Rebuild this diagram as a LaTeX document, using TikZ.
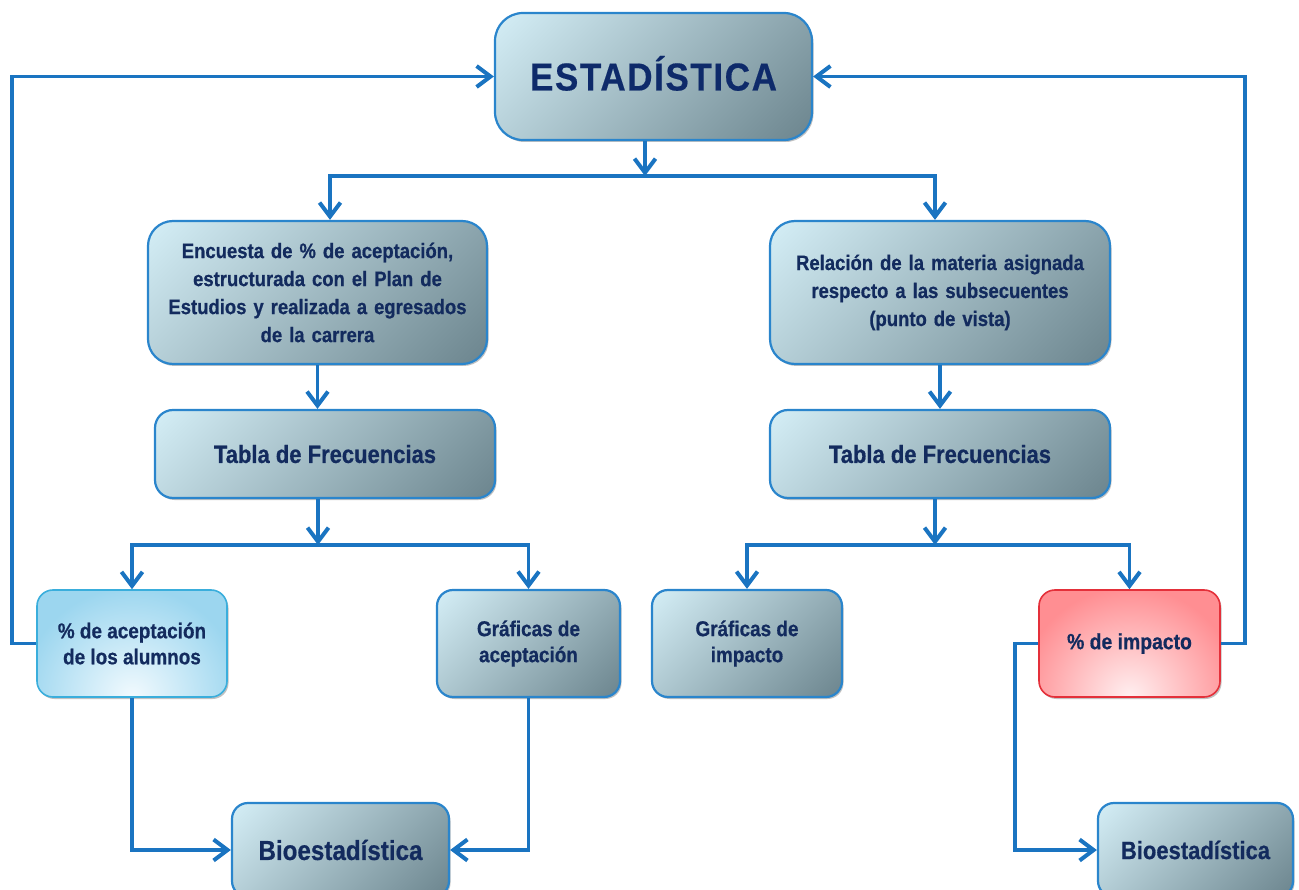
\documentclass[tikz,border=0pt]{standalone}
\usepackage{fontspec}
\setmainfont{Liberation Sans}[FakeStretch=0.88, FakeBold=0.6]
\newfontfamily\estfont{Liberation Sans}[FakeStretch=0.9, LetterSpace=4, FakeBold=0.4]
\usetikzlibrary{arrows.meta,shadows}
\definecolor{linec}{HTML}{1A74C1}
\definecolor{boxborder}{HTML}{2A85CC}
\definecolor{txtc}{HTML}{132B5E}
\definecolor{estc}{HTML}{0E2A6A}
\definecolor{gradA}{HTML}{D4EEF6}
\definecolor{gradB}{HTML}{6C858E}
\definecolor{lbOut}{HTML}{9CD6EF}
\definecolor{lbIn}{HTML}{F2FAFE}
\definecolor{lbBorder}{HTML}{3AAEDC}
\definecolor{rdOut}{HTML}{FF8E92}
\definecolor{rdIn}{HTML}{FFF0F1}
\definecolor{rdBorder}{HTML}{E4303A}
\pgfdeclarehorizontalshading{diagshade}{100bp}{color(0bp)=(gradA); color(15bp)=(gradA); color(85bp)=(gradB); color(100bp)=(gradB)}
\tikzset{
  box/.style={draw=boxborder, line width=2.2pt, rounded corners=#1,
    shading=diagshade, shading angle=-45,
    text=txtc, font=\bfseries, align=center, inner sep=0pt,
    drop shadow={shadow xshift=1.5pt, shadow yshift=-2pt, opacity=0.35, fill=black!70}},
  box/.default=18pt,
  lbbox/.style={draw=lbBorder, line width=1.6pt, rounded corners=16pt, fill=lbOut,
    path picture={\shade[inner color=lbIn, outer color=lbOut] (path picture bounding box.south) circle (110pt);},
    text=txtc, font=\bfseries, align=center, inner sep=0pt,
    drop shadow={shadow xshift=1.5pt, shadow yshift=-2pt, opacity=0.35, fill=black!70}},
  rdbox/.style={draw=rdBorder, line width=1.6pt, rounded corners=16pt, fill=rdOut,
    path picture={\shade[inner color=rdIn, outer color=rdOut] (path picture bounding box.south) circle (110pt);},
    text=txtc, font=\bfseries, align=center, inner sep=0pt,
    drop shadow={shadow xshift=1.5pt, shadow yshift=-2pt, opacity=0.35, fill=black!70}},
  conn/.style={draw=linec, line width=3.8pt},
  arr/.style={conn, -{Straight Barb[length=14pt, width=21pt, line width=4pt]}},
}
\begin{document}
\begin{tikzpicture}[x=1pt, y=-1pt]
\useasboundingbox (0,0) rectangle (1299,890);

% nodes
\node[box=28pt, minimum width=317pt, minimum height=127pt, text height=28pt, text depth=0pt,
      font=\estfont\bfseries\fontsize{39}{40}\selectfont, text=estc] (est) at (653.5,76.5) {ESTAD\'ISTICA};
\node[box=25pt, minimum width=339pt, minimum height=143pt, text width=330pt,
      font=\bfseries\fontsize{21}{28}\selectfont] (enc) at (317.5,292.5)
      {Encuesta de \% de aceptaci\'on,\\ estructurada con el Plan de\\ Estudios y realizada a egresados\\ de la carrera};
\node[box=25pt, minimum width=340pt, minimum height=143pt, text width=330pt,
      font=\bfseries\fontsize{21}{28}\selectfont] (rel) at (940,292.5)
      {Relaci\'on de la materia asignada\\ respecto a las subsecuentes\\ (punto de vista)};
\node[box, minimum width=340pt, minimum height=88pt,
      font=\bfseries\fontsize{25}{26}\selectfont] (tab1) at (325,454) {Tabla de Frecuencias};
\node[box, minimum width=340pt, minimum height=88pt,
      font=\bfseries\fontsize{25}{26}\selectfont] (tab2) at (940,454) {Tabla de Frecuencias};
\node[lbbox, minimum width=190pt, minimum height=107pt,
      font=\bfseries\fontsize{21.5}{26}\selectfont] (acep) at (132,643.5) {\% de aceptaci\'on\\ de los alumnos};
\node[box=16pt, minimum width=183pt, minimum height=107pt,
      font=\bfseries\fontsize{21.5}{26}\selectfont] (gacep) at (528.5,643.5) {Gr\'aficas de\\ aceptaci\'on};
\node[box=16pt, minimum width=190pt, minimum height=107pt,
      font=\bfseries\fontsize{21.5}{26}\selectfont] (gimp) at (747,643.5) {Gr\'aficas de\\ impacto};
\node[rdbox, minimum width=181pt, minimum height=107pt,
      font=\bfseries\fontsize{22}{26}\selectfont] (imp) at (1129.5,643.5) {\% de impacto};
\node[box=16pt, minimum width=217pt, minimum height=94pt,
      font=\bfseries\fontsize{27.5}{28}\selectfont] (bio1) at (340.5,850) {Bioestad\'istica};
\node[box=16pt, minimum width=195pt, minimum height=94pt,
      font=\bfseries\fontsize{25}{26}\selectfont] (bio2) at (1195.5,850) {Bioestad\'istica};

% junction coordinates
\coordinate (j0) at (645,176);
\coordinate (jL) at (330,176);
\coordinate (jR) at (935,176);
\coordinate (j1) at (318,545);
\coordinate (j2) at (935,545);
\coordinate (fL) at (12,0);
\coordinate (fR) at (1245,0);
\coordinate (fB) at (1015,0);

% connectors
\draw[arr] (est.south -| j0) -- (j0);
\draw[arr] (j0) -| (enc.north -| jL);
\draw[arr] (j0) -| (rel.north -| jR);
\draw[arr] (enc.south) -- (enc.south |- tab1.north);
\draw[arr] (rel.south) -- (rel.south |- tab2.north);
\draw[arr] (tab1.south -| j1) -- (j1);
\draw[arr] (j1) -| (acep.north);
\draw[arr] (j1) -| (gacep.north);
\draw[arr] (tab2.south -| j2) -- (j2);
\draw[arr] (j2) -| (gimp.north);
\draw[arr] (j2) -| (imp.north);
\draw[arr] (acep.west) -| (fL |- est.west) -- (est.west);
\draw[arr] (imp.east) -| (fR |- est.east) -- (est.east);
\draw[arr] (acep.south) |- (bio1.west);
\draw[arr] (gacep.south) |- (bio1.east);
\draw[arr] (imp.west) -| (fB |- bio2.west) -- (bio2.west);
\end{tikzpicture}
\end{document}
